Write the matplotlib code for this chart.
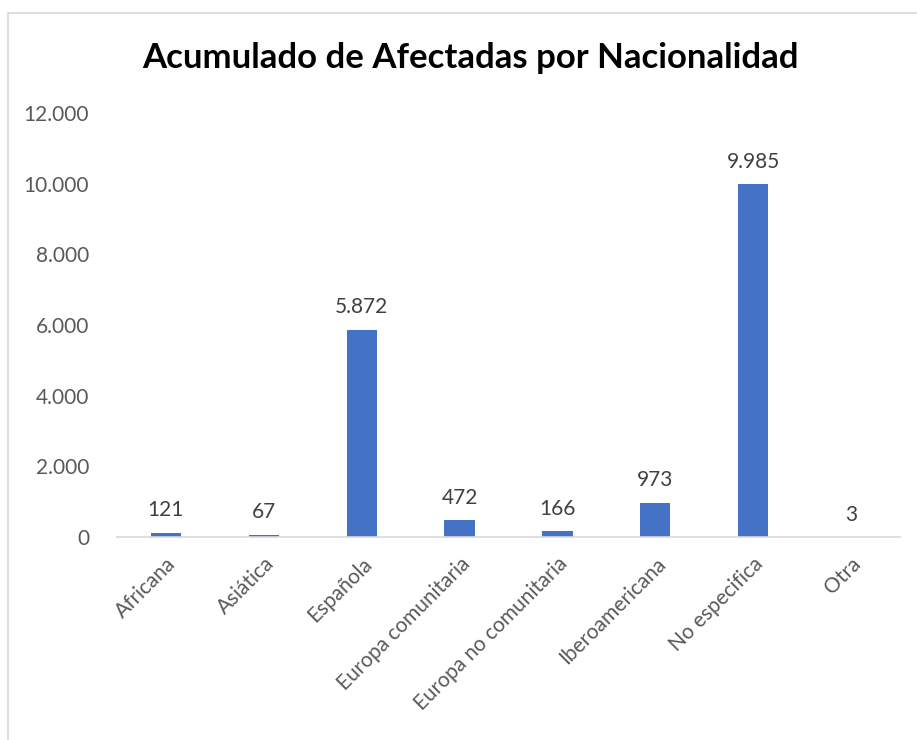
import matplotlib.pyplot as plt
from matplotlib.patches import Rectangle
from matplotlib.ticker import FuncFormatter

categorias = ['Africana', 'Asiática', 'Española', 'Europa comunitaria',
              'Europa no comunitaria', 'Iberoamericana', 'No especifica', 'Otra']
afectadas = [121, 67, 5872, 472, 166, 973, 9985, 3]

plt.rcParams['font.family'] = ['Lato', 'DejaVu Sans']

fig = plt.figure(figsize=(9.17, 7.4), dpi=100)
W, H = 917, 740
ax = fig.add_axes([117 / W, 1 - 537 / H, (900 - 117) / W, (537 - 113) / H])

# marco del grafico
fig.patches.append(Rectangle((8 / W, -0.05), 1.2, 1 - 13 / H + 0.05,
                             transform=fig.transFigure, fill=False,
                             edgecolor='#d9d9d9', linewidth=1.2))

x = range(len(categorias))
ax.bar(x, afectadas, width=0.31, color='#4472C4')

for i, v in enumerate(afectadas):
    ax.text(i, v + 350, f'{v:,}'.replace(',', '.'), ha='center', va='bottom',
            fontsize=15, color='#404040')

ax.set_xlim(-0.5, len(categorias) - 0.5)
ax.set_ylim(0, 12000)
ax.set_yticks(range(0, 12001, 2000))
ax.yaxis.set_major_formatter(FuncFormatter(lambda v, p: f'{int(v):,}'.replace(',', '.')))
ax.set_xticks(list(x))
ax.set_xticklabels(categorias, rotation=45, ha='right', rotation_mode='anchor')

for s in ['top', 'right', 'left']:
    ax.spines[s].set_visible(False)
ax.spines['bottom'].set_color('#d9d9d9')
ax.spines['bottom'].set_linewidth(1.2)
ax.tick_params(axis='both', length=0, labelsize=15, labelcolor='#595959')
ax.tick_params(axis='x', pad=12)
ax.tick_params(axis='y', pad=20)

fig.text(470 / W, 1 - 58 / H, 'Acumulado de Afectadas por Nacionalidad',
         ha='center', va='center', fontsize=25, fontweight='bold', color='black')

fig.savefig('out.png', dpi=100)
